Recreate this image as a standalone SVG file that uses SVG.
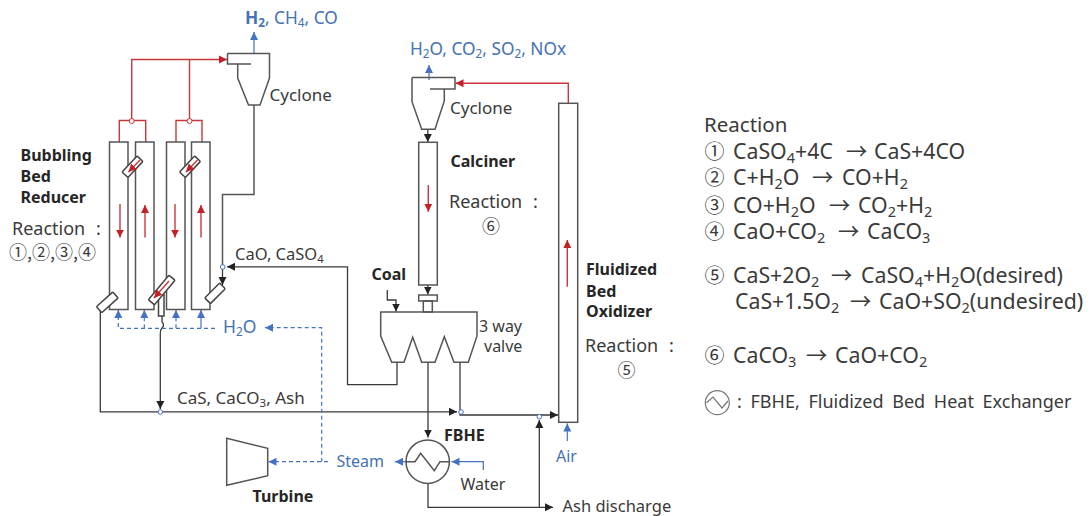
<svg xmlns="http://www.w3.org/2000/svg" width="1091" height="516" viewBox="0 0 1091 516">
<style>
text{font-family:"Noto Sans","Noto Sans CJK KR","Liberation Sans",sans-serif;fill:#3a3a3a;font-size:16px}
.b{font-weight:700;fill:#262626;font-size:16px}
.bl{fill:#4472b4}
.m{font-size:18px;word-spacing:6px}
.c{font-family:"Noto Sans CJK KR",sans-serif;font-size:18px}
.h{font-size:20.500px}
.r{font-size:21.300px}
.n{font-family:"Noto Sans CJK KR",sans-serif;font-size:20px}
tspan.s{font-size:68%}
.g{fill:none;stroke:#555;stroke-width:1.5}
.w{fill:#fff;stroke:#444;stroke-width:1.5}
.k{fill:none;stroke:#3a3a3a;stroke-width:1.3}
.rd{fill:none;stroke:#c8383a;stroke-width:1.4}
.u{fill:none;stroke:#4472c4;stroke-width:1.2}
.d{fill:none;stroke:#4472c4;stroke-width:1.2;stroke-dasharray:4 3}
.dot{fill:#fff;stroke:#4472c4;stroke-width:1}
.rdot{fill:#fff;stroke:#c8383a;stroke-width:1}
</style>
<defs>
<marker id="ak" markerUnits="userSpaceOnUse" markerWidth="10" markerHeight="10" refX="8" refY="5" orient="auto"><path d="M0 1L8 5L0 9z" fill="#222"/></marker>
<marker id="ar" markerUnits="userSpaceOnUse" markerWidth="10" markerHeight="10" refX="8" refY="5" orient="auto"><path d="M0 1L8 5L0 9z" fill="#c42026"/></marker>
<marker id="ab" markerUnits="userSpaceOnUse" markerWidth="10" markerHeight="10" refX="8" refY="5" orient="auto"><path d="M0 1L8 5L0 9z" fill="#4472c4"/></marker>
</defs>

<g id="connectors">
<path class="rd" d="M131.700 120.500V59.500H227" marker-end="url(#ar)"/>
<path class="rd" d="M189.500 120.500V59.500"/>
<path class="rd" d="M119.300 142V120.500H145.700V142"/>
<path class="rd" d="M176 142V120.500H202V142"/>
<path class="g" d="M254 105V194.500H222.500V267"/>
<path class="k" d="M222.500 267V285" marker-end="url(#ak)"/>
<path class="u" d="M254 53V32" marker-end="url(#ab)"/>
<path class="k" d="M397 362V384.700H347.500V266.800H227" marker-end="url(#ak)"/>
<path class="k" d="M100.300 308V411.800H457" marker-end="url(#ak)"/>
<path class="k" d="M162 316V322Q165 325 162 328Q160 330 160.300 334V409" marker-end="url(#ak)"/>
<path class="k" d="M460 362V415H558" marker-end="url(#ak)"/>
<path class="k" d="M428 362V437.500" marker-end="url(#ak)"/>
<path class="k" d="M428 483.500V507.300H553" marker-end="url(#ak)"/>
<path class="k" d="M539.300 507V420" marker-end="url(#ak)"/>
<path class="k" d="M387.300 290V300H396V311.500" marker-end="url(#ak)"/>
<path class="k" d="M427.800 129V142" marker-end="url(#ak)"/>
<path class="k" d="M427.800 285V294.500" marker-end="url(#ak)"/>
<path class="rd" d="M568.300 103V83.300H455.500" marker-end="url(#ar)"/>
<path class="u" d="M429 80V65" marker-end="url(#ab)"/>
<path class="u" d="M567.300 441V423.500" marker-end="url(#ab)"/>
<path class="u" d="M483.300 470V461.700H451.500" marker-end="url(#ab)"/>
<path class="u" d="M406 461.700H395" marker-end="url(#ab)"/>
<path class="d" d="M215 328.300H118.300V310" marker-end="url(#ab)"/>
<path class="d" d="M144.300 328.300V310" marker-end="url(#ab)"/>
<path class="d" d="M176 328.300V310" marker-end="url(#ab)"/>
<path class="u" d="M201 328.300V310" marker-end="url(#ab)"/>
<path class="d" d="M321.700 461.700V327.700H265" marker-end="url(#ab)"/>
<path class="d" d="M328 461.700H268.500" marker-end="url(#ab)"/>
<path class="rd" d="M120 204V237.600" marker-end="url(#ar)"/>
<path class="rd" d="M145 237.600V205" marker-end="url(#ar)"/>
<path class="rd" d="M175 204V237.600" marker-end="url(#ar)"/>
<path class="rd" d="M201 237.600V205" marker-end="url(#ar)"/>
<path class="rd" d="M428.300 185V211.700" marker-end="url(#ar)"/>
<path class="rd" d="M567.300 286.700V240" marker-end="url(#ar)"/>
<circle class="rdot" cx="131.700" cy="121" r="2.500"/>
<circle class="rdot" cx="189.500" cy="121" r="2.500"/>
<circle class="dot" cx="222.700" cy="267" r="2.300"/>
<circle class="dot" cx="160.300" cy="412" r="2.300"/>
<circle class="dot" cx="461" cy="412" r="2.300"/>
<circle class="dot" cx="539.300" cy="416.700" r="2.300"/>
</g>

<g id="cyclone-1">
<path class="g" d="M227.500 53.500H269.500V78L260 105H248.500L237.700 78V64M227.500 53.500V64H251"/>
<text x="269.500" y="101" style="font-size:17px">Cyclone</text>
</g>
<g id="bubbling-bed-reducer">
<rect class="g" x="109.500" y="142" width="18.500" height="167.500"/>
<rect class="g" x="135.500" y="142" width="18.500" height="167.500"/>
<rect class="g" x="166.500" y="142" width="18.500" height="167.500"/>
<rect class="g" x="191.500" y="142" width="18.500" height="167.500"/>
<rect class="w" x="121.500" y="162.700" width="22" height="8" rx="1" transform="rotate(-47 132.500 166.700)"/>
<rect class="w" x="179" y="162.700" width="22" height="8" rx="1" transform="rotate(-47 190 166.700)"/>
<rect class="w" x="96.300" y="298.300" width="22" height="8" rx="1" transform="rotate(-42 107.300 302.300)"/>
<rect class="w" x="158.500" y="295" width="5.500" height="21"/>
<rect class="w" x="145.700" y="286" width="32" height="8" rx="1" transform="rotate(-50 161.700 290)"/>
<rect class="w" x="204.500" y="289.300" width="21" height="8" rx="1" transform="rotate(-45 215 293.300)"/>
<path class="rd" d="M140 160L128.500 172" marker-end="url(#ar)"/>
<path class="rd" d="M197.500 160L186 172" marker-end="url(#ar)"/>
<path class="rd" d="M169 281L154 298" marker-end="url(#ar)"/>
<text class="b" x="20.500" y="161">Bubbling</text>
<text class="b" x="20.500" y="182">Bed</text>
<text class="b" x="20.500" y="202.500">Reducer</text>
<text class="m" x="12" y="235">Reaction :</text>
<text class="c" x="9" y="259">①,②,③,④</text>
</g>
<g id="cyclone-2">
<path class="g" d="M412 77.500H455V89H430M444.300 89V101L435 129.300H421.700L412 101.700V77.500"/>
<text x="450" y="114" style="font-size:17px">Cyclone</text>
</g>
<g id="calciner">
<rect class="g" x="418.700" y="142.300" width="18.600" height="142.700"/>
<rect class="g" x="418.700" y="295" width="18.600" height="6"/>
<rect class="g" x="423.300" y="301" width="9" height="11"/>
<text class="b" x="450.500" y="166.500">Calciner</text>
<text class="m" x="449" y="208">Reaction :</text>
<text class="c" x="482" y="233">⑥</text>
</g>
<g id="three-way-valve">
<path class="g" d="M380.700 312H477V336L468.300 362.300H454L444.300 336.700L435 362.300H421.700L412.700 337.300L404 362.300H391.700L380.700 336Z"/>
<text x="479" y="332">3 way</text>
<text x="484" y="352">valve</text>
<text class="b" x="371.500" y="280">Coal</text>
</g>
<g id="fluidized-bed-oxidizer">
<rect class="g" x="558.700" y="103.300" width="19" height="319"/>
<text class="b" x="586" y="275">Fluidized</text>
<text class="b" x="586" y="296.500">Bed</text>
<text class="b" x="586" y="316.500">Oxidizer</text>
<text class="m" x="585" y="351.500">Reaction :</text>
<text class="c" x="617.500" y="377">⑤</text>
</g>
<g id="fbhe">
<circle class="g" cx="427.700" cy="461.700" r="21.700"/>
<path class="g" d="M406 461.700H415L420.700 453.300L434.300 470.700L440 461.700H450"/>
<text class="b" x="444" y="441">FBHE</text>
</g>
<g id="turbine">
<path class="g" d="M226.700 438.300L267.700 448.300V475.700L226.700 485.300Z"/>
<text class="b" x="252.500" y="502">Turbine</text>
</g>
<g id="labels">
<text class="bl" x="245" y="24" style="font-size:17.300px"><tspan font-weight="700">H<tspan class="s" dy="3">2</tspan></tspan><tspan dy="-3">, CH</tspan><tspan class="s" dy="3">4</tspan><tspan dy="-3">, CO</tspan></text>
<text class="bl" x="410" y="55" style="font-size:17.300px">H<tspan class="s" dy="3">2</tspan><tspan dy="-3">O, CO</tspan><tspan class="s" dy="3">2</tspan><tspan dy="-3">, SO</tspan><tspan class="s" dy="3">2</tspan><tspan dy="-3">, NOx</tspan></text>
<text x="235" y="260" style="font-size:16.500px">CaO, CaSO<tspan class="s" dy="3">4</tspan></text>
<text x="177" y="404" style="font-size:17px">CaS, CaCO<tspan class="s" dy="3">3</tspan><tspan dy="-3">, Ash</tspan></text>
<text class="bl" x="223" y="333" style="font-size:17.500px">H<tspan class="s" dy="3">2</tspan><tspan dy="-3">O</tspan></text>
<text class="bl" x="336.500" y="467">Steam</text>
<text class="bl" x="556" y="461.500">Air</text>
<text x="460.500" y="490">Water</text>
<text x="562.500" y="511.500" style="font-size:16.500px">Ash discharge</text>
</g>
<g id="reaction-list">
<text class="h" x="704" y="132">Reaction</text>
<g id="r1"><text class="n" x="704.500" y="159">①</text><text class="r" y="159"><tspan x="733">CaSO</tspan><tspan class="s" dy="4">4</tspan><tspan dy="-4">+4C</tspan><tspan x="846">→</tspan><tspan x="874">CaS+4CO</tspan></text></g>
<g id="r2"><text class="n" x="704.500" y="185">②</text><text class="r" y="185"><tspan x="733">C+H</tspan><tspan class="s" dy="4">2</tspan><tspan dy="-4">O</tspan><tspan x="812">→</tspan><tspan x="842">CO+H</tspan><tspan class="s" dy="4">2</tspan></text></g>
<g id="r3"><text class="n" x="704.500" y="212.500">③</text><text class="r" y="212.500"><tspan x="733">CO+H</tspan><tspan class="s" dy="4">2</tspan><tspan dy="-4">O</tspan><tspan x="829">→</tspan><tspan x="858">CO</tspan><tspan class="s" dy="4">2</tspan><tspan dy="-4">+H</tspan><tspan class="s" dy="4">2</tspan></text></g>
<g id="r4"><text class="n" x="704.500" y="239">④</text><text class="r" y="239"><tspan x="733">CaO+CO</tspan><tspan class="s" dy="4">2</tspan><tspan x="838" dy="-4">→</tspan><tspan x="867">CaCO</tspan><tspan class="s" dy="4">3</tspan></text></g>
<g id="r5"><text class="n" x="704.500" y="283">⑤</text><text class="r" y="283"><tspan x="733">CaS+2O</tspan><tspan class="s" dy="4">2</tspan><tspan x="831" dy="-4">→</tspan><tspan x="861">CaSO</tspan><tspan class="s" dy="4">4</tspan><tspan dy="-4">+H</tspan><tspan class="s" dy="4">2</tspan><tspan dy="-4">O(desired)</tspan></text></g>
<text class="r" y="309"><tspan x="735">CaS+1.5O</tspan><tspan class="s" dy="4">2</tspan><tspan x="850" dy="-4">→</tspan><tspan x="879">CaO+SO</tspan><tspan class="s" dy="4">2</tspan><tspan dy="-4">(undesired)</tspan></text>
<g id="r6"><text class="n" x="704.500" y="363">⑥</text><text class="r" y="363"><tspan x="733">CaCO</tspan><tspan class="s" dy="4">3</tspan><tspan x="806" dy="-4">→</tspan><tspan x="835">CaO+CO</tspan><tspan class="s" dy="4">2</tspan></text></g>
<circle cx="717.300" cy="402.700" r="12" fill="none" stroke="#777" stroke-width="1.2"/>
<path d="M706.500 402.700L713 397L722 408L728 401" fill="none" stroke="#777" stroke-width="1.2"/>
<text x="737" y="408" style="font-size:18px;word-spacing:4px">: FBHE, Fluidized Bed Heat Exchanger</text>
</g>
</svg>
